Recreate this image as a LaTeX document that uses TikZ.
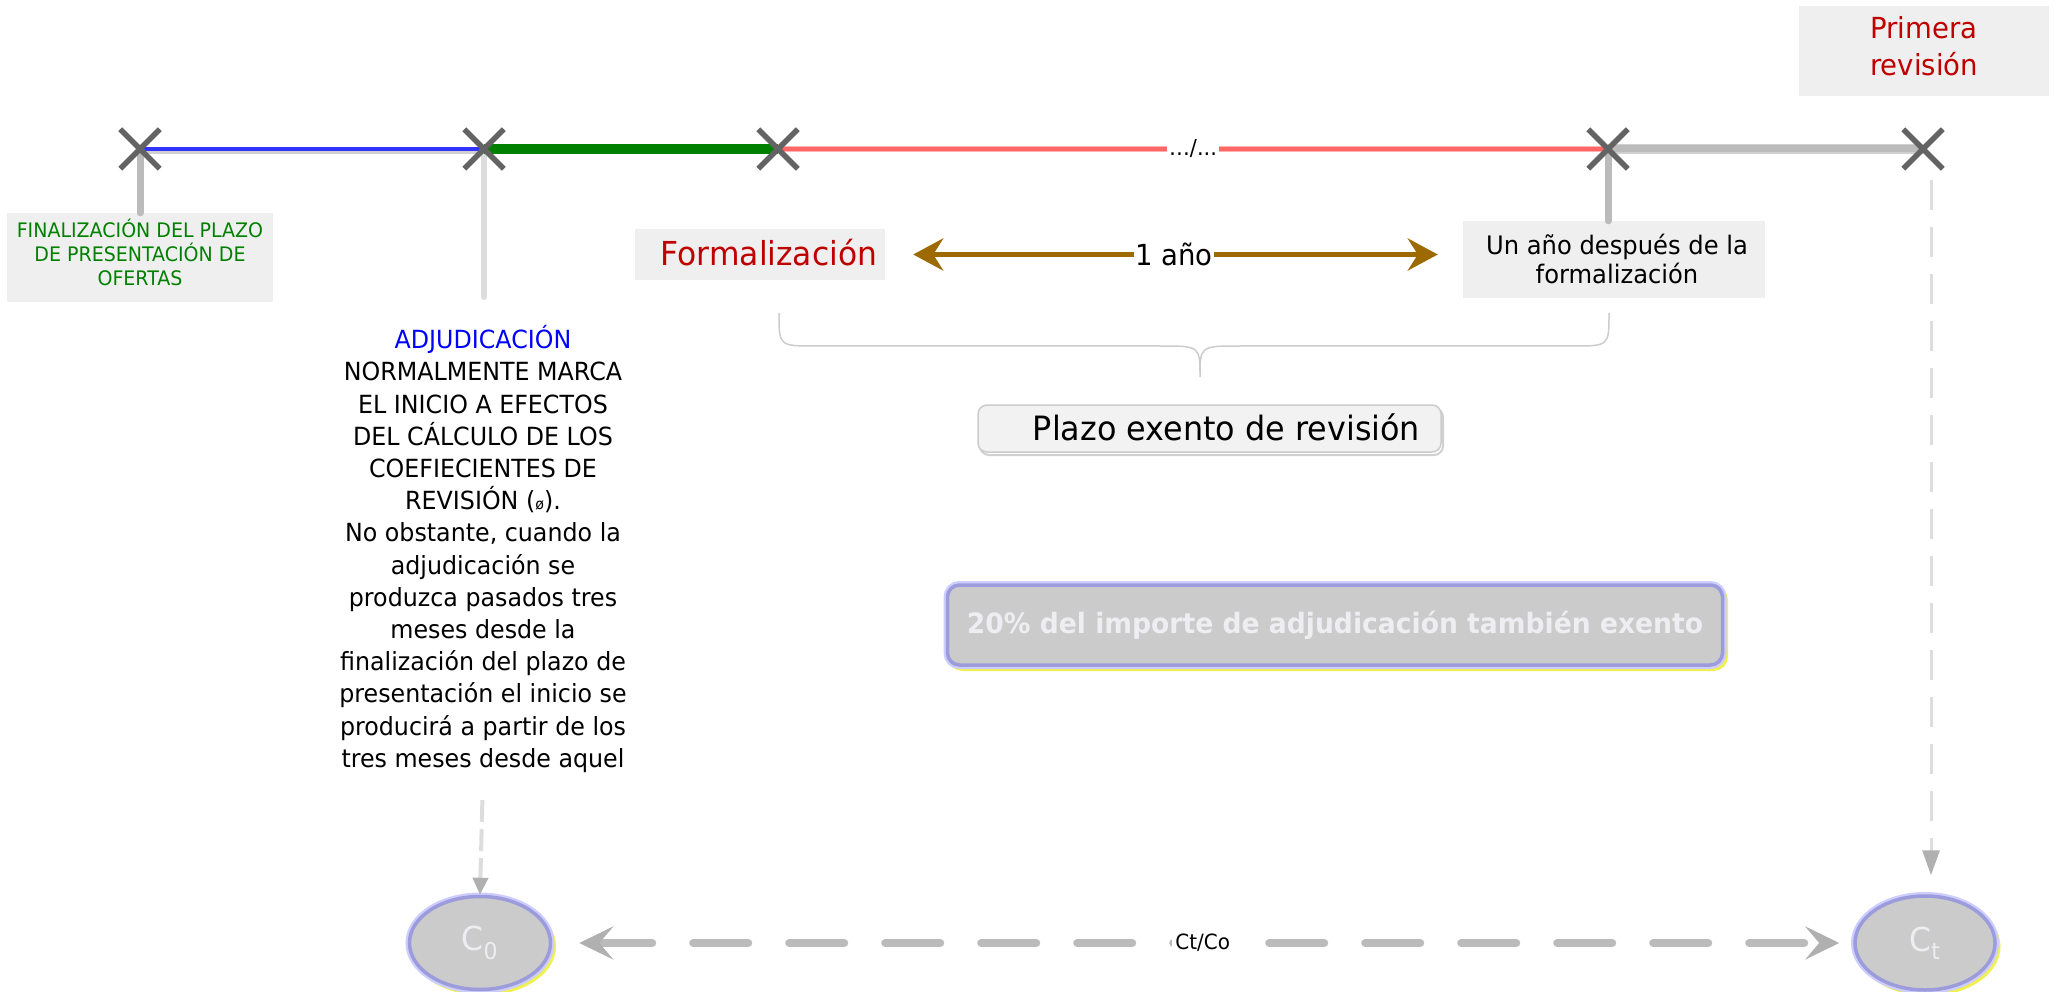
\documentclass[tikz,border=0pt]{standalone}
\usepackage{fontspec}
\setmainfont{DejaVu Sans}[FakeStretch=0.95]
\usetikzlibrary{arrows.meta,shapes.geometric,shapes.misc}
\definecolor{xgray}{HTML}{636363}
\definecolor{bluel}{HTML}{3333FF}
\definecolor{greenl}{HTML}{008000}
\definecolor{redl}{HTML}{FF6666}
\definecolor{redhalo}{HTML}{FFB0B0}
\definecolor{grayl}{HTML}{BBBBBB}
\definecolor{lightl}{HTML}{DDDDDD}
\definecolor{shadl}{HTML}{D0D0D0}
\definecolor{boxfill}{HTML}{EFEFEF}
\definecolor{darkred}{HTML}{C00000}
\definecolor{adjblue}{HTML}{0000FF}
\definecolor{brownl}{HTML}{9C6A00}
\definecolor{hfill}{HTML}{CBCBCB}
\definecolor{hborder}{HTML}{9C9CDC}
\definecolor{hglow}{HTML}{CDCDFF}
\definecolor{hyellow}{HTML}{F0F050}
\definecolor{htext}{HTML}{EEEEF2}
\definecolor{bracel}{HTML}{CCCCCC}
\definecolor{plazofill}{HTML}{F2F2F2}
\definecolor{arrgray}{HTML}{B0B0B0}
\tikzset{
  xmark/.style={draw=xgray, cross out, minimum size=34pt, line width=5.5pt, inner sep=0pt},
  dotbox/.style={fill=boxfill, inner sep=0pt},
  boxtext/.style={align=center, inner sep=0pt},
  hilite/.style={fill=hfill, draw=hborder, line width=3.5pt, text=htext,
    preaction={draw=hyellow, line width=5pt, transform canvas={shift={(3pt,-3.5pt)}}},
    preaction={draw=hglow, line width=8pt}},
  vline/.style={line width=7pt, grayl, line cap=round},
  vlight/.style={line width=6pt, lightl, line cap=round},
  dashdown/.style={lightl, line width=3pt, dash pattern=on 30pt off 17pt,
    -{Triangle[length=25pt,width=17pt,fill=arrgray,color=arrgray]}},
  ratioarrow/.style={grayl, line width=8pt, line cap=round, dash pattern=on 55pt off 41pt,
    {Stealth[length=34pt,width=33pt,inset=14pt,color=arrgray,fill=arrgray]}-{Stealth[length=34pt,width=33pt,inset=14pt,color=arrgray,fill=arrgray]}},
  yeararrow/.style={brownl, line width=5pt,
    {Stealth[length=30pt,width=32pt,inset=10pt]}-{Stealth[length=30pt,width=32pt,inset=10pt]}},
}
\begin{document}
\begin{tikzpicture}[x=1pt,y=-1pt]
\useasboundingbox (0,0) rectangle (2062,992);
% timeline points
\coordinate (t1) at (140,149);
\coordinate (t2) at (484,149);
\coordinate (t3) at (778,149);
\coordinate (t4) at (1608,149);
\coordinate (t5) at (1923,149);

% boxes
\node[dotbox, minimum width=266pt, minimum height=89pt] (fin) at (140,257.5) {};
\node[boxtext, text=greenl, font=\fontsize{20}{24.3}\selectfont] (fintxt) at ([yshift=5pt]fin.center)
  {FINALIZACIÓN DEL PLAZO\\DE PRESENTACIÓN DE\\OFERTAS};
\node[dotbox, minimum width=250pt, minimum height=51pt] (formal) at (760,254.5) {};
\node[boxtext, text=darkred, font=\fontsize{33}{38}\selectfont] (formaltxt) at ([shift={(9pt,2pt)}]formal.center)
  {Formalización};
\node[dotbox, minimum width=302pt, minimum height=77pt] (unano) at (1614,259.5) {};
\node[boxtext, font=\fontsize{25.5}{29}\selectfont] (unanotxt) at ([shift={(3pt,1pt)}]unano.center)
  {Un año después de la\\formalización};
\node[dotbox, minimum width=250pt, minimum height=90pt] (prim) at (1924,51) {};
\node[boxtext, text=darkred, font=\fontsize{29}{37}\selectfont] (primtxt) at ([yshift=5pt]prim.center)
  {Primera\\revisión};
\node[align=center, font=\fontsize{25}{32.2}\selectfont] (adj) at (483,549)
  {\textcolor{adjblue}{ADJUDICACIÓN}\\NORMALMENTE MARCA\\EL INICIO A EFECTOS\\DEL CÁLCULO DE LOS\\COEFIECIENTES DE\\REVISIÓN ({\fontsize{15}{15}\selectfont ø}).\\No obstante, cuando la\\adjudicación se\\produzca pasados tres\\meses desde la\\finalización del plazo de\\presentación el inicio se\\producirá a partir de los\\tres meses desde aquel};
\node[fill=plazofill, draw=bracel, line width=1.5pt, rounded corners=9pt,
  minimum width=463pt, minimum height=47pt, inner sep=0pt,
  preaction={draw=shadl, line width=2pt, transform canvas={shift={(2pt,-3pt)}}}]
  (plazo) at (1209.5,428.5) {};
\node[boxtext, font=\fontsize{33.5}{38}\selectfont] (plazotxt) at ([shift={(17pt,1pt)}]plazo.center)
  {Plazo exento de revisión};
\node[hilite, rounded corners=12pt, minimum width=775pt, minimum height=80pt, inner sep=0pt,
  font=\bfseries\fontsize{28}{34}\selectfont] (veinte) at (1335,625)
  {20\% del importe de adjudicación también exento};
\node[hilite, ellipse, minimum width=141pt, minimum height=93pt, inner sep=0pt,
  font=\fontsize{33}{38}\selectfont] (c0) at (480,943) {C\textsubscript{0}};
\node[hilite, ellipse, minimum width=140pt, minimum height=94pt, inner sep=0pt,
  font=\fontsize{33}{38}\selectfont] (ct) at (1925,943) {C\textsubscript{t}};
\coordinate (adjtop) at (484,297);
\coordinate (d5) at (1931,180);

% vertical lines
\draw[vline] (t1) -- (fin.north);
\draw[vlight] (t2) -- (adjtop);
\draw[vline] (t4) -- (t4 |- unano.north);
\draw[dashdown, shorten >=19pt] (d5) -- (d5 |- ct.north);
\draw[lightl, line width=4pt, dash pattern=on 22pt off 7pt, shorten <=24pt,
  -{Triangle[length=17pt,width=15pt,fill=arrgray,color=arrgray]}] (adj.south) -- (c0.north);

% timeline
\draw[shadl, line width=7pt, transform canvas={yshift=-2pt}] (t1) -- (t2);
\draw[bluel, line width=4.5pt] (t1) -- (t2);
\draw[greenl, line width=9.5pt] (t2) -- (t3);
\draw[redhalo, line width=6pt] (t3) -- (t4);
\draw[redl, line width=3.5pt] (t3) -- node[fill=white, inner sep=2pt, text=black,
  font=\fontsize{22}{24}\selectfont] (dots) {…/...} (t4);
\draw[shadl, line width=10pt] (t4) -- (t5);
\draw[grayl, line width=7pt] (t4) -- (t5);

% X marks
\node[xmark] (m1) at (t1) {};
\node[xmark] (m2) at (t2) {};
\node[xmark] (m3) at (t3) {};
\node[xmark] (m4) at (t4) {};
\node[xmark] (m5) at (t5) {};

% one-year arrow
\draw[yeararrow, shorten <=28pt, shorten >=25pt] (formal.east) --
  node[fill=white, inner sep=1pt, text=black, font=\fontsize{29}{34}\selectfont] (anio) {1 año}
  (formal.east -| unano.west);

% brace
\draw[bracel, line width=1.5pt] (779,313) .. controls (779,346) .. (815,346) -- (1160,346)
  .. controls (1200,346) .. (1200,377) .. controls (1200,346) .. (1240,346) -- (1573,346)
  .. controls (1609,346) .. (1609,313);

% ratio arrow
\draw[ratioarrow, shorten <=27pt, shorten >=14pt] (c0) --
  node[fill=white, inner sep=3pt, text=black, font=\fontsize{21}{24}\selectfont] (ratio) {Ct/Co}
  (ct);
\end{tikzpicture}
\end{document}
